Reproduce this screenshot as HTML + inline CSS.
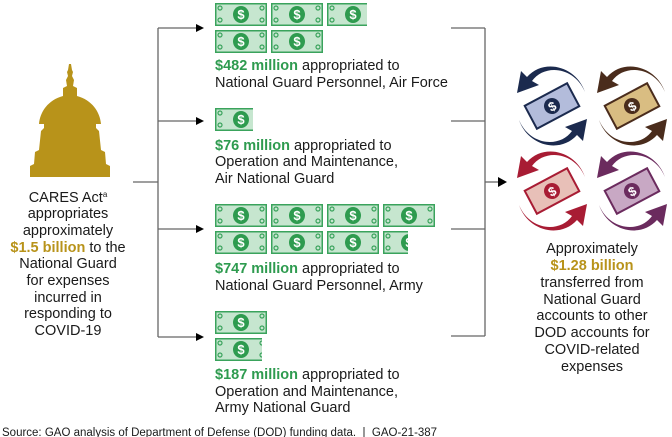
<!DOCTYPE html>
<html><head><meta charset="utf-8"><style>
html,body{margin:0;padding:0;background:#fff;}
svg{display:block;font-family:"Liberation Sans",Arial,sans-serif;}
</style></head><body>
<svg width="672" height="437" viewBox="0 0 672 437" xmlns="http://www.w3.org/2000/svg">
<defs>
 <g id="bill">
  <rect x="0.75" y="0.75" width="50.5" height="21.5" fill="#c6e6cf" stroke="#3aa35c" stroke-width="1.5"/>
  <circle cx="5" cy="5" r="2" fill="none" stroke="#3aa35c" stroke-width="1.2"/>
  <circle cx="5" cy="17" r="2" fill="none" stroke="#3aa35c" stroke-width="1.2"/>
  <circle cx="47" cy="5" r="2" fill="none" stroke="#3aa35c" stroke-width="1.2"/>
  <circle cx="47" cy="17" r="2" fill="none" stroke="#3aa35c" stroke-width="1.2"/>
  <ellipse cx="26" cy="11.5" rx="8" ry="8.5" fill="#2e9b4f"/>
  <text x="26" y="16" font-size="13" font-weight="bold" fill="#fff" text-anchor="middle">$</text>
 </g>
 <clipPath id="c38"><rect x="0" y="0" width="38" height="23"/></clipPath>
 <clipPath id="c47"><rect x="0" y="0" width="47" height="23"/></clipPath>
 <clipPath id="c40"><rect x="0" y="0" width="40" height="23"/></clipPath>
 <clipPath id="c25"><rect x="0" y="0" width="25" height="23"/></clipPath>
 <g id="arr">
  <path d="M33,-14 C22,-40 -8,-42 -20,-25 L-13,-21 L-35,-13 L-31,-35 L-25,-29 C-8,-48 24,-40 33,-14 Z"/>
 </g>
</defs>

<g fill="#b8931a">
 <path d="M69,64 L71,64 L72,70 L73,72 L72,76 L74,80 L73,86 L77,88 L77,96 C92,100 100,112 101,124 L96,124 L96,128 L99,131 L101,150 L105,152 L106,164 L110,166 L110,177 L30,177 L30,166 L34,164 L35,152 L39,150 L41,131 L44,128 L44,124 L39,124 C40,112 48,100 63,96 L63,88 L67,86 L66,80 L68,76 L67,72 L68,70 Z"/>
</g>

<g font-size="14.5" fill="#1a1a1a" text-anchor="middle">
 <text x="68" y="202">CARES Act<tspan font-size="8" dy="-5">a</tspan></text>
 <text x="68" y="218">appropriates</text>
 <text x="68" y="235">approximately</text>
 <text x="68" y="252"><tspan fill="#b8931a" font-weight="bold">$1.5 billion</tspan> to the</text>
 <text x="68" y="268">National Guard</text>
 <text x="68" y="285">for expenses</text>
 <text x="68" y="302">incurred in</text>
 <text x="68" y="318">responding to</text>
 <text x="68" y="335">COVID-19</text>
</g>

<g stroke="#666" stroke-width="1.3" fill="none">
 <line x1="133" y1="182" x2="158" y2="182"/>
 <line x1="158" y1="28" x2="158" y2="337"/>
 <line x1="158" y1="28" x2="197" y2="28"/>
 <line x1="158" y1="121" x2="197" y2="121"/>
 <line x1="158" y1="229" x2="197" y2="229"/>
 <line x1="158" y1="337" x2="197" y2="337"/>
</g>
<g fill="#000">
 <path d="M204,28 L196,24 L196,32 Z"/>
 <path d="M204,121 L196,117 L196,125 Z"/>
 <path d="M204,229 L196,225 L196,233 Z"/>
 <path d="M204,337 L196,333 L196,341 Z"/>
</g>

<g stroke="#666" stroke-width="1.3" fill="none">
 <line x1="451" y1="28" x2="485" y2="28"/>
 <line x1="451" y1="121" x2="485" y2="121"/>
 <line x1="451" y1="229" x2="485" y2="229"/>
 <line x1="451" y1="336" x2="485" y2="336"/>
 <line x1="485" y1="28" x2="485" y2="336"/>
 <line x1="485" y1="182" x2="499" y2="182"/>
</g>
<path d="M507,182 L498,177 L498,187 Z" fill="#000"/>

<use href="#bill" x="215" y="3"/>
<use href="#bill" x="271" y="3"/>
<g transform="translate(327,3)"><g clip-path="url(#c40)"><use href="#bill"/></g></g>
<use href="#bill" x="215" y="30"/>
<use href="#bill" x="271" y="30"/>
<g transform="translate(215,108)"><g clip-path="url(#c38)"><use href="#bill"/></g></g>
<use href="#bill" x="215" y="204"/>
<use href="#bill" x="271" y="204"/>
<use href="#bill" x="327" y="204"/>
<use href="#bill" x="383" y="204"/>
<use href="#bill" x="215" y="231"/>
<use href="#bill" x="271" y="231"/>
<use href="#bill" x="327" y="231"/>
<g transform="translate(383,231)"><g clip-path="url(#c25)"><use href="#bill"/></g></g>
<use href="#bill" x="215" y="311"/>
<g transform="translate(215,338)"><g clip-path="url(#c47)"><use href="#bill"/></g></g>

<g font-size="14.5" fill="#1a1a1a">
 <text x="215" y="70"><tspan fill="#2e9b4f" font-weight="bold">$482 million</tspan> appropriated to</text>
 <text x="215" y="87">National Guard Personnel, Air Force</text>
 <text x="215" y="150"><tspan fill="#2e9b4f" font-weight="bold">$76 million</tspan> appropriated to</text>
 <text x="215" y="166">Operation and Maintenance,</text>
 <text x="215" y="183">Air National Guard</text>
 <text x="215" y="273"><tspan fill="#2e9b4f" font-weight="bold">$747 million</tspan> appropriated to</text>
 <text x="215" y="290">National Guard Personnel, Army</text>
 <text x="215" y="379"><tspan fill="#2e9b4f" font-weight="bold">$187 million</tspan> appropriated to</text>
 <text x="215" y="396">Operation and Maintenance,</text>
 <text x="215" y="412">Army National Guard</text>
</g>

<g transform="translate(552,106)">
 <g fill="#1b2a4e"><use href="#arr"/><use href="#arr" transform="rotate(180)"/></g>
 <g transform="rotate(-28)"><rect x="-24" y="-13" width="48" height="26" fill="#b3bcdb" stroke="#1b2a4e" stroke-width="2"/><circle cx="0" cy="0" r="8" fill="#1b2a4e"/><text x="0" y="5" font-size="13" font-weight="bold" fill="#fff" text-anchor="middle">$</text></g>
</g>
<g transform="translate(632,106)">
 <g fill="#4a2c1c"><use href="#arr"/><use href="#arr" transform="rotate(180)"/></g>
 <g transform="rotate(-28)"><rect x="-24" y="-13" width="48" height="26" fill="#d9bd82" stroke="#4a2c1c" stroke-width="2"/><circle cx="0" cy="0" r="8" fill="#4a2c1c"/><text x="0" y="5" font-size="13" font-weight="bold" fill="#fff" text-anchor="middle">$</text></g>
</g>
<g transform="translate(552,191)">
 <g fill="#a81c34"><use href="#arr"/><use href="#arr" transform="rotate(180)"/></g>
 <g transform="rotate(-28)"><rect x="-24" y="-13" width="48" height="26" fill="#e8c0b8" stroke="#a81c34" stroke-width="2"/><circle cx="0" cy="0" r="8" fill="#a81c34"/><text x="0" y="5" font-size="13" font-weight="bold" fill="#fff" text-anchor="middle">$</text></g>
</g>
<g transform="translate(632,191)">
 <g fill="#6b2b5e"><use href="#arr"/><use href="#arr" transform="rotate(180)"/></g>
 <g transform="rotate(-28)"><rect x="-24" y="-13" width="48" height="26" fill="#c8a8c4" stroke="#6b2b5e" stroke-width="2"/><circle cx="0" cy="0" r="8" fill="#6b2b5e"/><text x="0" y="5" font-size="13" font-weight="bold" fill="#fff" text-anchor="middle">$</text></g>
</g>

<g font-size="14.5" fill="#1a1a1a" text-anchor="middle">
 <text x="592" y="253">Approximately</text>
 <text x="592" y="270" fill="#b8931a" font-weight="bold">$1.28 billion</text>
 <text x="592" y="287">transferred from</text>
 <text x="592" y="304">National Guard</text>
 <text x="592" y="320">accounts to other</text>
 <text x="592" y="337">DOD accounts for</text>
 <text x="592" y="354">COVID-related</text>
 <text x="592" y="371">expenses</text>
</g>

<text x="2" y="436" font-size="11.5" fill="#1a1a1a">Source: GAO analysis of Department of Defense (DOD) funding data.&#160;&#160;|&#160;&#160;GAO-21-387</text>
</svg>
</body></html>
